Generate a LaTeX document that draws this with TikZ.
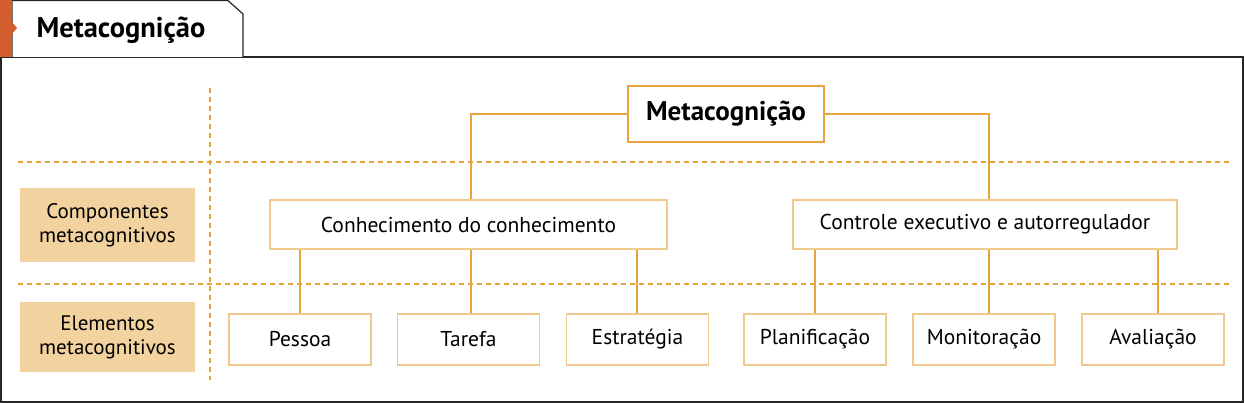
\documentclass[tikz,border=0pt]{standalone}
\usepackage{fontspec}
\setmainfont{PT Sans}
\definecolor{org}{HTML}{E8A33D}
\definecolor{lborder}{HTML}{F2C98C}
\definecolor{lfill}{HTML}{F2D3A0}
\definecolor{rust}{HTML}{D35F30}
\begin{document}
\begin{tikzpicture}[x=1pt,y=-1pt,
  bx/.style={draw=lborder,line width=1.6pt,fill=white,font=\fontsize{21.5}{24}\selectfont,inner sep=0pt},
  lbl/.style={fill=lfill,font=\fontsize{21}{24}\selectfont,align=center,inner sep=0pt},
  con/.style={draw=org,line width=1.4pt},
  dsh/.style={draw=org,line width=1.2pt,dash pattern=on 5pt off 4pt}]
\useasboundingbox (0,0) rectangle (1245,403);
\fill[white] (0,0) rectangle (1245,403);
\draw[line width=1.2pt,draw=black!85] (1,57) rectangle (1243,402);
\draw[line width=1.2pt,draw=black!85,fill=white] (12,57) -- (12,0.6) -- (228,0.6) -- (243,14) -- (243,57);
\fill[rust] (0,0) rectangle (12,57);
\fill[rust] (12,22) -- (17,28) -- (12,34) -- cycle;
\node[font=\bfseries\fontsize{28.5}{30}\selectfont,anchor=west] (tab) at (33,30) {Metacognição};
\draw[dsh] (210,88) -- (210,380);
\draw[dsh] (18,162) -- (1230,162);
\draw[dsh] (18,284) -- (1230,284);
\node[lbl,minimum width=175pt,minimum height=74pt] (comp) at (107.5,225) {Componentes\\metacognitivos};
\node[lbl,minimum width=175pt,minimum height=70pt] (elem) at (107.5,337) {Elementos\\metacognitivos};
\node[bx,draw=org,line width=2pt,font=\bfseries\fontsize{27}{30}\selectfont,minimum width=196pt,minimum height=56pt] (meta) at (726,114) {Metacognição};
\node[bx,minimum width=397pt,minimum height=49pt] (con1) at (468.5,224.5) {Conhecimento do conhecimento};
\node[bx,minimum width=384pt,minimum height=49pt] (con2) at (985,224.5) {Controle executivo e autorregulador};
\foreach \n/\t/\c in {p/Pessoa/300, t/Tarefa/468.5, e/Estratégia/637.5, pl/Planificação/815, m/Monitoração/984, a/Avaliação/1153}
  \node[bx,minimum width=142pt,minimum height=51pt] (\n) at (\c,339.5) {\t};
\draw[con] (meta.west) -| (con1.north-|471,0);
\draw[con] (meta.east) -| (con2.north-|989,0);
\draw[con] (con1.south-|300,0) -- (p.north-|300,0);
\draw[con] (con1.south-|471,0) -- (t.north-|471,0);
\draw[con] (con1.south-|637,0) -- (e.north-|637,0);
\draw[con] (con2.south-|815,0) -- (pl.north-|815,0);
\draw[con] (con2.south-|989,0) -- (m.north-|989,0);
\draw[con] (con2.south-|1158,0) -- (a.north-|1158,0);
\end{tikzpicture}
\end{document}
